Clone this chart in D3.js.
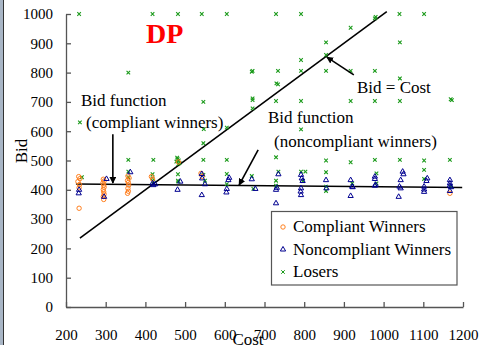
<!DOCTYPE html>
<html>
<head>
<meta charset="utf-8">
<script src="https://cdn.jsdelivr.net/npm/d3@7"></script>
<style>
  body { margin: 0; background: #fff; }
  svg { display: block; }
</style>
</head>
<body>
<svg class="scatter" width="479" height="345"></svg>
<script>
// values: [cost, bid]
const compliantWinners = [
  [232, 445], [235, 438], [230, 428], [234, 418], [233, 407], [233, 337],
  [294, 436], [296, 430], [293, 423], [295, 416], [296, 409], [294, 401], [295, 393], [296, 385], [294, 377], [295, 367],
  [356, 447], [359, 440], [355, 432], [357, 425], [358, 416], [356, 405], [357, 395], [355, 388],
  [415, 445], [418, 437], [483, 495], [540, 456], [543, 446], [1167, 388]
];
const noncompliantWinners = [
  [233, 400], [232, 388], [302, 437], [296, 376], [362, 460],
  [418, 422], [425, 419], [420, 416], [488, 428], [481, 400],
  [542, 454], [543, 439], [550, 419], [542, 382],
  [611, 441], [609, 433], [605, 403], [604, 391], [668, 436], [677, 403],
  [735, 453], [731, 407], [729, 400], [729, 354],
  [792, 451], [794, 439], [796, 430], [792, 405], [791, 394], [792, 382],
  [855, 433], [856, 405], [917, 433], [921, 411], [922, 409], [917, 379],
  [978, 445], [978, 437], [978, 414], [980, 417],
  [1048, 462], [1050, 453], [1043, 433], [1040, 411], [1043, 405], [1038, 376],
  [1110, 439], [1108, 430], [1102, 411], [1102, 401], [1102, 393],
  [1167, 433], [1167, 422], [1167, 414], [1170, 409], [1167, 396]
];
const losers = [
  [233, 1000], [418, 1000], [482, 1000], [542, 1000], [605, 1000], [729, 1000], [792, 1000], [1040, 1000], [1102, 1000],
  [978, 985], [980, 990], [917, 953], [855, 903], [1041, 903], [792, 843], [855, 860],
  [357, 800], [668, 803], [670, 806], [734, 806], [792, 806], [855, 806], [917, 806], [978, 806],
  [1041, 780], [734, 760], [730, 763],
  [729, 703], [792, 703], [917, 703], [978, 703], [1041, 703], [1169, 709], [1172, 706], [670, 712], [670, 706],
  [546, 700], [670, 678], [235, 630], [547, 607], [605, 612], [792, 606], [546, 559],
  [357, 502], [420, 502], [478, 496], [481, 505], [484, 500], [486, 492], [480, 510], [483, 488],
  [546, 502], [605, 502], [729, 511], [855, 500], [917, 494], [978, 502], [1041, 502], [1102, 500], [1167, 502],
  [240, 443], [357, 462], [357, 443], [418, 453], [418, 439], [420, 428], [482, 453], [482, 431], [483, 428],
  [546, 451], [550, 431], [605, 454], [605, 419], [668, 447], [672, 403],
  [735, 462], [729, 431], [729, 414], [792, 462], [803, 462], [797, 430],
  [855, 460], [855, 411], [855, 396], [921, 422], [982, 456], [982, 422], [1102, 468], [1102, 437], [1169, 411]
];
const bidFunction = [[225, 420], [1198, 408]];
const bidEqualsCost = [[235, 235], [1008, 1008]];
const costTicks = [200, 300, 400, 500, 600, 700, 800, 900, 1000, 1100, 1200];
const bidTicks = [0, 100, 200, 300, 400, 500, 600, 700, 800, 900, 1000];
const legendLabels = ["Compliant Winners", "Noncompliant Winners", "Losers"];

const svg = d3.select(".scatter");
const font = "'Liberation Serif', 'Times New Roman', serif";
const orange = "#ff7f1e", blue = "#000090", green = "#1a9a1a";

const x = d3.scaleLinear().domain([200, 1200]).range([66, 463]);
const y = d3.scaleLinear().domain([0, 1000]).range([307, 14]);

svg.append("defs").append("marker")
    .attr("id", "head")
    .attr("viewBox", "0 0 10 10")
    .attr("refX", 9).attr("refY", 5)
    .attr("markerWidth", 7).attr("markerHeight", 7)
    .attr("markerUnits", "userSpaceOnUse")
    .attr("orient", "auto")
  .append("path")
    .attr("d", "M0,0L10,5L0,10z")
    .attr("fill", "#000");

// frame strip on the left
svg.append("rect").attr("x", 0).attr("y", 0).attr("width", 3).attr("height", 345).attr("fill", "#a9b6c6");
svg.append("line").attr("x1", 3.5).attr("x2", 3.5).attr("y1", 0).attr("y2", 345).attr("stroke", "#333");

// axes, ticks inside
const xAxis = svg.append("g")
    .attr("transform", `translate(0,${y(0)})`)
    .call(d3.axisBottom(x).tickValues(costTicks).tickFormat(d3.format("d"))
      .tickSize(-5).tickSizeOuter(0).tickPadding(22));
const yAxis = svg.append("g")
    .attr("transform", `translate(${x(200)},0)`)
    .call(d3.axisLeft(y).tickValues(bidTicks).tickFormat(d3.format("d"))
      .tickSize(-5).tickSizeOuter(0).tickPadding(13));
[xAxis, yAxis].forEach(g => {
  g.selectAll("path, line").attr("stroke", "#555").attr("stroke-width", 1.3);
  g.selectAll("text").style("font", `15px ${font}`).attr("fill", "#000");
});

// reference lines
const line = d3.line().x(d => x(d[0])).y(d => y(d[1]));
svg.append("path").attr("d", line(bidFunction)).attr("stroke", "#000").attr("stroke-width", 1.6).attr("fill", "none");
svg.append("path").attr("d", line(bidEqualsCost)).attr("stroke", "#000").attr("stroke-width", 1.6).attr("fill", "none");

// points
const cross = d3.symbol().type(d3.symbolX).size(10);
const tri = d3.symbol().type(d3.symbolTriangle).size(12);

svg.append("g").selectAll("path").data(losers).enter().append("path")
    .attr("d", cross)
    .attr("transform", d => `translate(${x(d[0])},${y(d[1])})`)
    .attr("fill", "none").attr("stroke", green).attr("stroke-width", 1.1);

svg.append("g").selectAll("circle").data(compliantWinners).enter().append("circle")
    .attr("cx", d => x(d[0])).attr("cy", d => y(d[1])).attr("r", 2.2)
    .attr("fill", "none").attr("stroke", orange).attr("stroke-width", 1);

svg.append("g").selectAll("path").data(noncompliantWinners).enter().append("path")
    .attr("d", tri)
    .attr("transform", d => `translate(${x(d[0])},${y(d[1])})`)
    .attr("fill", "none").attr("stroke", blue).attr("stroke-width", 1);

// annotations
const arrows = [
  [[318, 590], [318, 423]],
  [[684, 536], [636, 416]],
  [[925, 792], [857, 853]]
];
svg.append("g").selectAll("line").data(arrows).enter().append("line")
    .attr("x1", d => x(d[0][0])).attr("y1", d => y(d[0][1]))
    .attr("x2", d => x(d[1][0])).attr("y2", d => y(d[1][1]))
    .attr("stroke", "#000").attr("stroke-width", 1.6)
    .attr("marker-end", "url(#head)");

const notes = [
  ["Bid function", 81, 106],
  ["(compliant winners)", 86, 128],
  ["Bid function", 268, 123],
  ["(noncompliant winners)", 274, 147],
  ["Bid = Cost", 357, 93]
];
svg.append("g").selectAll("text").data(notes).enter().append("text")
    .attr("x", d => d[1]).attr("y", d => d[2])
    .style("font", `17px ${font}`)
    .text(d => d[0]);

svg.append("text")
    .attr("x", 146).attr("y", 43)
    .attr("fill", "#ff0000")
    .style("font", `bold 28px ${font}`)
    .text("DP");

svg.append("text")
    .attr("transform", "translate(27,151) rotate(-90)")
    .attr("text-anchor", "middle")
    .style("font", `17px ${font}`)
    .text("Bid");
svg.append("text")
    .attr("x", 248).attr("y", 345)
    .attr("text-anchor", "middle")
    .style("font", `17px ${font}`)
    .text("Cost");

// legend
const legend = svg.append("g");
legend.append("rect")
    .attr("x", 271.5).attr("y", 211.5).attr("width", 185.5).attr("height", 73.5)
    .attr("fill", "#fff").attr("stroke", "#555").attr("stroke-width", 1.2);
const rows = legend.selectAll("g").data(legendLabels).enter().append("g")
    .attr("transform", (d, i) => `translate(283,${227 + i * 22.5})`);
rows.append("text")
    .attr("x", 10).attr("y", 5)
    .style("font", `17px ${font}`)
    .text(d => d);
rows.each(function(d, i) {
  const g = d3.select(this);
  if (i === 0) g.append("circle").attr("r", 2.2).attr("fill", "none").attr("stroke", orange);
  if (i === 1) g.append("path").attr("d", tri).attr("fill", "none").attr("stroke", blue);
  if (i === 2) g.append("path").attr("d", cross).attr("fill", "none").attr("stroke", green);
});
</script>
</body>
</html>
